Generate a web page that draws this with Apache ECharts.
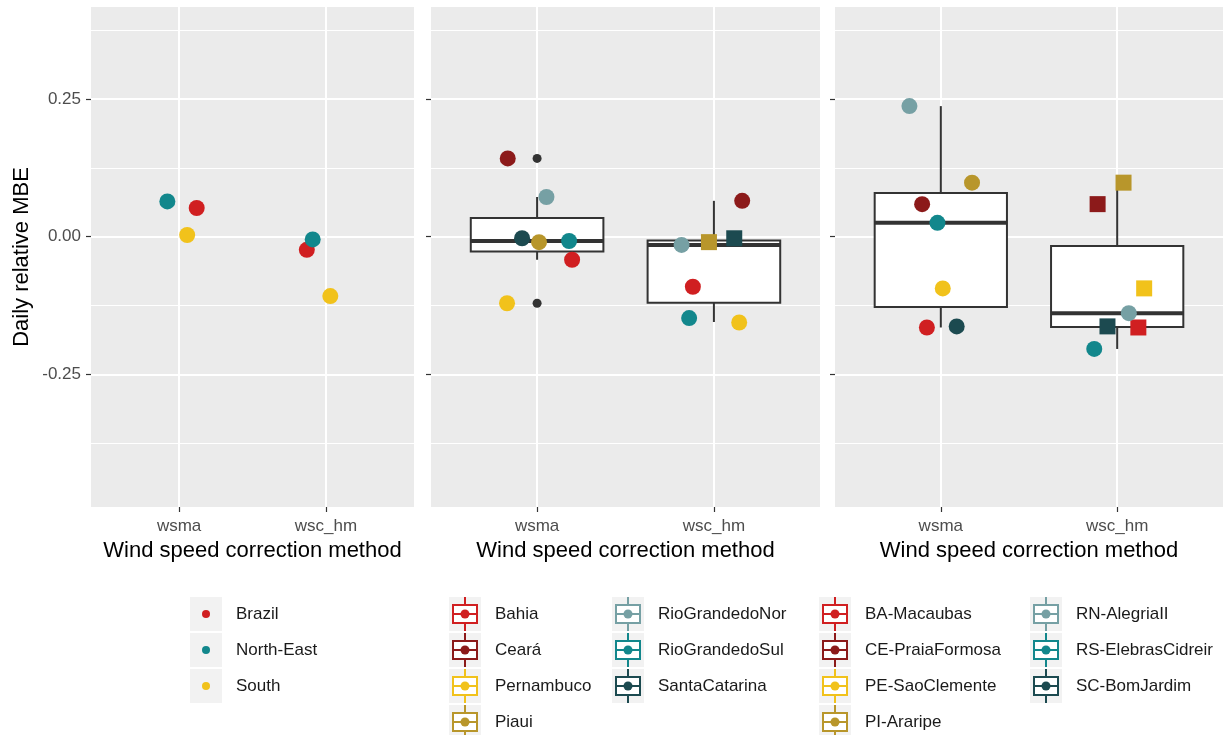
<!DOCTYPE html>
<html><head><meta charset="utf-8">
<script src="https://cdn.jsdelivr.net/npm/echarts@6.0.0/dist/echarts.min.js"></script>
<style>html,body{margin:0;padding:0;background:#fff}#c{width:1231px;height:735px}</style>
</head><body><div id="c"></div>
<script>
// ---------- data ----------
const methods = ['wsma', 'wsc_hm'];
const yTicks = [-0.25, 0, 0.25];
const yMinorTicks = [-0.375, -0.125, 0.125, 0.375];

// Panel 1: regions
const regions = ['Brazil', 'North-East', 'South'];
const regionColors = ['#D01F21', '#12878C', '#F1C21B'];
const regionMBE_wsma = [0.052, 0.064, 0.003];
const regionMBE_wschm = [-0.024, -0.005, -0.108];
const regionJitter_wsma = [0.12, -0.08, 0.055];
const regionJitter_wschm = [-0.13, -0.09, 0.03];

// Panel 2: states
const states = ['Bahia', 'Ceará', 'Pernambuco', 'Piaui', 'RioGrandedoNor', 'RioGrandedoSul', 'SantaCatarina'];
const stateColors = ['#D01F21', '#8C1A1A', '#F1C21B', '#B8962B', '#76A0A4', '#12878C', '#1C4A50'];
const stateMBE_wsma = [-0.042, 0.142, -0.121, -0.010, 0.072, -0.008, -0.003];
const stateJitter_wsma = [0.198, -0.166, -0.17, 0.011, 0.053, 0.181, -0.085];
const stateShape_wsma = ['circle', 'circle', 'circle', 'circle', 'circle', 'circle', 'circle'];
const stateMBE_wschm = [-0.091, 0.065, -0.156, -0.010, -0.015, -0.148, -0.003];
const stateJitter_wschm = [-0.119, 0.16, 0.143, -0.028, -0.183, -0.14, 0.115];
const stateShape_wschm = ['circle', 'circle', 'circle', 'rect', 'circle', 'circle', 'rect'];
// box stats: [lower whisker, Q1, median, Q3, upper whisker]
const stateBox_wsma = [-0.042, -0.027, -0.008, 0.034, 0.072];
const stateBox_wschm = [-0.155, -0.120, -0.015, -0.007, 0.065];
const stateOutliers_wsma = [0.142, -0.121];
const stateOutliers_wschm = [];

// Panel 3: sites
const sites = ['BA-Macaubas', 'CE-PraiaFormosa', 'PE-SaoClemente', 'PI-Araripe', 'RN-AlegriaII', 'RS-ElebrasCidreir', 'SC-BomJardim'];
const siteColors = ['#D01F21', '#8C1A1A', '#F1C21B', '#B8962B', '#76A0A4', '#12878C', '#1C4A50'];
const siteMBE_wsma = [-0.165, 0.059, -0.094, 0.098, 0.237, 0.025, -0.163];
const siteJitter_wsma = [-0.079, -0.106, 0.011, 0.177, -0.178, -0.019, 0.09];
const siteShape_wsma = ['circle', 'circle', 'circle', 'circle', 'circle', 'circle', 'circle'];
const siteMBE_wschm = [-0.165, 0.059, -0.094, 0.098, -0.139, -0.204, -0.163];
const siteJitter_wschm = [0.12, -0.111, 0.153, 0.036, 0.066, -0.13, -0.055];
const siteShape_wschm = ['rect', 'rect', 'rect', 'rect', 'circle', 'circle', 'rect'];
const siteBox_wsma = [-0.165, -0.128, 0.025, 0.079, 0.237];
const siteBox_wschm = [-0.204, -0.164, -0.139, -0.017, 0.098];

// ---------- chart ----------
const FONT = "'Liberation Sans', Arial, sans-serif";
const Y_MIN = -0.491, Y_MAX = 0.417;
const grids = [
  {left: 91, top: 7, width: 323, height: 500},
  {left: 431, top: 7, width: 389, height: 500},
  {left: 835, top: 7, width: 388, height: 500}
];

function pts(names, colors, vals, jit, shapes, xcat) {
  return names.map((n, k) => ({
    name: n,
    value: [xcat + jit[k], vals[k]],
    symbol: shapes ? shapes[k] : 'circle',
    symbolSize: 16,
    itemStyle: {color: colors[k], opacity: 1}
  }));
}

function renderBox(params, api) {
  const x = api.value(0);
  const lo = api.coord([x, api.value(1)]);
  const q1 = api.coord([x, api.value(2)]);
  const md = api.coord([x, api.value(3)]);
  const q3 = api.coord([x, api.value(4)]);
  const hi = api.coord([x, api.value(5)]);
  const hw = api.size([0.75, 0])[0] / 2;
  const st = {stroke: '#333333', lineWidth: 2};
  return {type: 'group', children: [
    {type: 'line', shape: {x1: q3[0], y1: q3[1], x2: hi[0], y2: hi[1]}, style: st},
    {type: 'line', shape: {x1: lo[0], y1: lo[1], x2: q1[0], y2: q1[1]}, style: st},
    {type: 'rect', shape: {x: q3[0] - hw, y: q3[1], width: 2 * hw, height: q1[1] - q3[1]}, style: {fill: '#ffffff', stroke: '#333333', lineWidth: 2}},
    {type: 'line', shape: {x1: md[0] - hw, y1: md[1], x2: md[0] + hw, y2: md[1]}, style: {stroke: '#333333', lineWidth: 4}}
  ]};
}

const xAxes = grids.map((g, i) => ({
  type: 'value', gridIndex: i, min: 0.4, max: 2.6, position: 'bottom',
  axisLine: {show: false, onZero: false},
  axisTick: {show: true, customValues: [1, 2], length: 5, lineStyle: {color: '#333333', width: 1.2}},
  axisLabel: {customValues: [1, 2], formatter: v => methods[Math.round(v) - 1] || '', color: '#4D4D4D', fontSize: 17, margin: 11, fontFamily: FONT},
  splitLine: {show: true, lineStyle: {color: '#ffffff', width: 2}},
  name: 'Wind speed correction method', nameLocation: 'middle', nameGap: 31,
  nameTextStyle: {fontSize: 22, color: '#000000', fontFamily: FONT}
}));
const yAxes = grids.map((g, i) => ({
  type: 'value', gridIndex: i, min: Y_MIN, max: Y_MAX, position: 'left',
  axisLine: {show: false, onZero: false},
  axisTick: {show: true, customValues: yTicks, length: 5, lineStyle: {color: '#333333', width: 1.2}},
  axisLabel: {show: i === 0, customValues: yTicks, formatter: v => v.toFixed(2), color: '#4D4D4D', fontSize: 17, margin: 10, fontFamily: FONT},
  splitLine: {show: true, lineStyle: {color: '#ffffff', width: 2}},
  name: i === 0 ? 'Daily relative MBE' : '', nameLocation: 'middle', nameGap: 58,
  nameTextStyle: {fontSize: 22, color: '#000000', fontFamily: FONT}
})).concat(grids.map((g, i) => ({
  type: 'value', gridIndex: i, min: Y_MIN, max: Y_MAX, position: 'right',
  axisLine: {show: false, onZero: false}, axisLabel: {show: false},
  axisTick: {show: false, customValues: yMinorTicks},
  splitLine: {show: true, lineStyle: {color: '#ffffff', width: 1}}
})));

const series = [
  {type: 'scatter', xAxisIndex: 0, yAxisIndex: 0, z: 4,
   data: pts(regions, regionColors, regionMBE_wsma, regionJitter_wsma, null, 1)
     .concat(pts(regions, regionColors, regionMBE_wschm, regionJitter_wschm, null, 2))},
  {type: 'custom', xAxisIndex: 1, yAxisIndex: 1, z: 2, renderItem: renderBox,
   encode: {x: 0, y: [1, 2, 3, 4, 5]},
   data: [[1].concat(stateBox_wsma), [2].concat(stateBox_wschm)]},
  {type: 'scatter', xAxisIndex: 1, yAxisIndex: 1, z: 3, symbolSize: 9, itemStyle: {color: '#333333', opacity: 1},
   data: stateOutliers_wsma.map(v => [1, v]).concat(stateOutliers_wschm.map(v => [2, v]))},
  {type: 'scatter', xAxisIndex: 1, yAxisIndex: 1, z: 4,
   data: pts(states, stateColors, stateMBE_wsma, stateJitter_wsma, stateShape_wsma, 1)
     .concat(pts(states, stateColors, stateMBE_wschm, stateJitter_wschm, stateShape_wschm, 2))},
  {type: 'custom', xAxisIndex: 2, yAxisIndex: 2, z: 2, renderItem: renderBox,
   encode: {x: 0, y: [1, 2, 3, 4, 5]},
   data: [[1].concat(siteBox_wsma), [2].concat(siteBox_wschm)]},
  {type: 'scatter', xAxisIndex: 2, yAxisIndex: 2, z: 4,
   data: pts(sites, siteColors, siteMBE_wsma, siteJitter_wsma, siteShape_wsma, 1)
     .concat(pts(sites, siteColors, siteMBE_wschm, siteJitter_wschm, siteShape_wschm, 2))}
];

// ---------- legends (graphic) ----------
const ROW0 = 614, ROWSTEP = 36;
function keyBg(x, cy) {
  return {type: 'rect', shape: {x: x, y: cy - 17, width: 32, height: 34}, style: {fill: '#F2F2F2'}, silent: true};
}
function label(x, cy, text) {
  return {type: 'text', x: x, y: cy, silent: true,
    style: {text: text, fill: '#1A1A1A', fontSize: 17, fontFamily: FONT, verticalAlign: 'middle', align: 'left'}};
}
function pointKey(x, cy, color) {
  return {type: 'circle', shape: {cx: x + 16, cy: cy, r: 4}, style: {fill: color}, silent: true};
}
function boxKey(x, cy, color) {
  const st = {stroke: color, lineWidth: 2};
  return {type: 'group', silent: true, children: [
    {type: 'line', shape: {x1: x + 16, y1: cy - 17, x2: x + 16, y2: cy - 9}, style: st},
    {type: 'line', shape: {x1: x + 16, y1: cy + 9, x2: x + 16, y2: cy + 17}, style: st},
    {type: 'rect', shape: {x: x + 4, y: cy - 9, width: 24, height: 18}, style: {fill: '#ffffff', stroke: color, lineWidth: 2}},
    {type: 'line', shape: {x1: x + 4, y1: cy, x2: x + 28, y2: cy}, style: st},
    {type: 'circle', shape: {cx: x + 16, cy: cy, r: 4.5}, style: {fill: color}}
  ]};
}
const graphics = [];
regions.forEach((n, k) => {
  const cy = ROW0 + k * ROWSTEP;
  graphics.push(keyBg(190, cy), pointKey(190, cy, regionColors[k]), label(236, cy, n));
});
function boxLegend(names, colors, cols) {
  names.forEach((n, k) => {
    const col = k < 4 ? 0 : 1;
    const row = k < 4 ? k : k - 4;
    const cy = ROW0 + row * ROWSTEP;
    const kx = cols[col];
    graphics.push(keyBg(kx, cy), boxKey(kx, cy, colors[k]), label(kx + 46, cy, n));
  });
}
boxLegend(states, stateColors, [449, 612]);
boxLegend(sites, siteColors, [819, 1030]);

const chart = echarts.init(document.getElementById('c'), null, {renderer: 'canvas'});
chart.setOption({
  animation: false,
  backgroundColor: '#ffffff',
  grid: grids.map(g => Object.assign({show: true, backgroundColor: '#EBEBEB', borderWidth: 0, containLabel: false}, g)),
  xAxis: xAxes,
  yAxis: yAxes,
  series: series,
  graphic: graphics
});
</script>
</body></html>
